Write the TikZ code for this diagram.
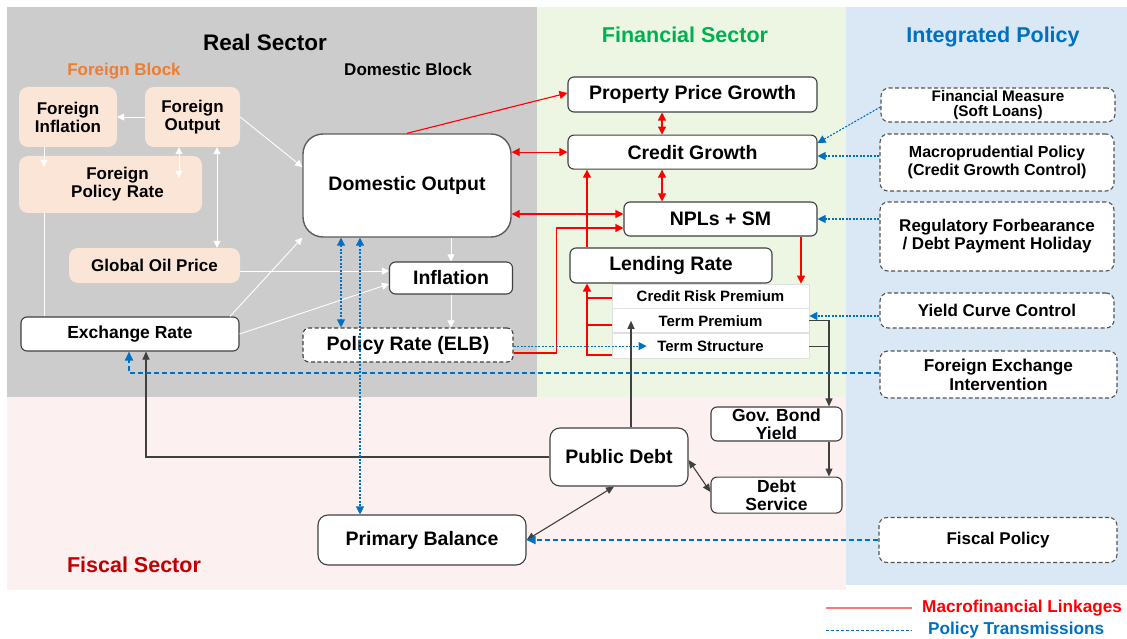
\documentclass[tikz,border=0pt]{standalone}
\usepackage{fontspec}
\setmainfont{Liberation Sans}
\usetikzlibrary{arrows.meta,positioning,calc}

\definecolor{realbg}{RGB}{204,204,204}
\definecolor{finbg}{RGB}{237,245,227}
\definecolor{polbg}{RGB}{218,232,245}
\definecolor{fiscbg}{RGB}{253,240,240}
\definecolor{peach}{RGB}{251,229,214}
\definecolor{boxline}{RGB}{64,64,64}
\definecolor{polblue}{RGB}{0,112,192}
\definecolor{orangetxt}{RGB}{237,125,49}
\definecolor{greentxt}{RGB}{0,176,80}
\definecolor{fiscred}{RGB}{192,0,0}
\definecolor{legred}{RGB}{255,120,120}

\newcommand{\txtsize}[2]{\bfseries\fontsize{#1}{#2}\selectfont}

\tikzstyle{box} = [rectangle, draw=boxline, fill=white, line width=1.1pt,
    rounded corners=6pt, align=center, inner sep=0pt, font=\txtsize{19.5}{22}]
\tikzstyle{smallbox} = [box, font=\txtsize{17.5}{18}]
\tikzstyle{foreign} = [rectangle, fill=peach, rounded corners=9pt,
    align=center, inner sep=0pt, font=\txtsize{17}{18}]
\tikzstyle{premium} = [rectangle, draw=black!12, fill=white, line width=0.8pt,
    inner sep=0pt, minimum width=197pt, font=\txtsize{15}{16}]
\tikzstyle{policy} = [rectangle, draw=boxline!90, dash pattern=on 4pt off 2.5pt,
    fill=white, line width=1.1pt, rounded corners=8pt, align=center,
    inner sep=0pt, minimum width=234pt, font=\txtsize{17}{18}]
\tikzstyle{sectortitle} = [inner sep=0pt, font=\txtsize{21.5}{24}]
\tikzstyle{realline} = [draw, white, line width=0.9pt, >={Triangle[length=7pt,width=7pt]}]
\tikzstyle{macroline} = [draw, red, line width=1.1pt, >={Triangle[length=8pt,width=8pt]}]
\tikzstyle{fiscline} = [draw, boxline, line width=1.1pt, >={Triangle[length=8pt,width=7pt]}]
\tikzstyle{policyline} = [draw, polblue, line width=1.1pt, dash pattern=on 2pt off 1.5pt,
    >={Triangle[length=8pt,width=8pt]}]
\tikzstyle{fxline} = [draw, polblue, line width=1.8pt, dash pattern=on 5pt off 3pt,
    >={Triangle[length=9pt,width=8pt]}]

\begin{document}
\begin{tikzpicture}[x=1pt,y=-1pt]
    \useasboundingbox (0,0) rectangle (1127,639);
    % Sector panels
    \fill[realbg] (7,7) rectangle (537,397);
    \fill[finbg] (537,7) rectangle (846,397);
    \fill[polbg] (846,7) rectangle (1127,585);
    \fill[fiscbg] (7,397) rectangle (846,590);

    % Sector titles
    \node[sectortitle, font=\txtsize{22.5}{24}] (realtitle) at (265,42) {Real Sector};
    \node[sectortitle, font=\txtsize{17}{18}, text=orangetxt] (foreigntitle) at (124,71) {Foreign Block};
    \node[sectortitle, font=\txtsize{17}{18}] (domtitle) at (408,69) {Domestic Block};
    \node[sectortitle, text=greentxt] (fintitle) at (685,35) {Financial Sector};
    \node[sectortitle, text=polblue] (poltitle) at (993,37) {Integrated Policy};
    \node[sectortitle, text=fiscred] (fisctitle) at (134,565) {Fiscal Sector};

    % Place nodes
    % real sector
    \node[foreign, minimum width=98pt, minimum height=60pt] (finfl) at (68,117) {Foreign\\Inflation};
    \node[foreign, minimum width=95pt, minimum height=60pt] (fout) at (192.5,117) {Foreign\\Output};
    \node[foreign, minimum width=183pt, minimum height=57pt, text width=183pt, xshift=0pt] (fprate) at (110.5,184.5) {\hspace*{14pt}Foreign\\\hspace*{14pt}Policy Rate};
    \node[foreign, minimum width=171pt, minimum height=35pt] (oil) at (154.5,265.5) {Global Oil Price};
    \node[smallbox, minimum width=218pt, minimum height=34pt] (exch) at (130,334) {Exchange Rate};
    \node[box, rounded corners=20pt, draw=boxline!85, line width=1.4pt, minimum width=208pt, minimum height=103pt] (dout) at (407,185.5) {Domestic Output};
    \node[box, minimum width=123pt, minimum height=32pt] (infl) at (451,278) {Inflation};
    \node[box, dash pattern=on 4pt off 2.5pt, minimum width=210pt, minimum height=34pt] (prate) at (408,345) {Policy Rate (ELB)};
    % financial sector
    \node[box, minimum width=249pt, minimum height=35pt] (ppg) at (692.5,94.5) {Property Price Growth};
    \node[box, minimum width=249pt, minimum height=34pt, below=22pt of ppg] (cg) {Credit Growth};
    \node[box, minimum width=193pt, minimum height=34pt] (npl) at (720.5,219) {NPLs + SM};
    \node[box, minimum width=202pt, minimum height=35pt] (lend) at (671,265.5) {Lending Rate};
    \node[premium, minimum height=24pt] (crp) at (710.5,296) {Credit Risk Premium};
    \node[premium, minimum height=24pt, below=0pt of crp] (tp) {Term Premium};
    \node[premium, minimum height=25pt, below=0pt of tp] (ts) {Term Structure};
    % fiscal sector
    \node[smallbox, minimum width=131pt, minimum height=34pt] (gby) at (776.5,424) {Gov. Bond\\Yield};
    \node[smallbox, minimum width=131pt, minimum height=36pt, below=35pt of gby] (dserv) {Debt\\Service};
    \node[box, rounded corners=10pt, minimum width=138pt, minimum height=58pt] (pdebt) at (619,457) {Public Debt};
    \node[box, rounded corners=10pt, minimum width=208pt, minimum height=50pt] (pbal) at (422,540) {Primary Balance};
    % integrated policy
    \node[policy, minimum height=34pt, font=\txtsize{15.3}{15.5}] (fmeas) at (998,105) {Financial Measure\\(Soft Loans)};
    \node[policy, minimum height=57pt, font=\txtsize{16}{18.5}] (macpru) at (997,162.5) {Macroprudential Policy\\(Credit Growth Control)};
    \node[policy, minimum height=69pt] (forbear) at (997,236.5) {Regulatory Forbearance\\/ Debt Payment Holiday};
    \node[policy, minimum height=35pt] (ycc) at (997,310.5) {Yield Curve Control};
    \node[policy, minimum width=237pt, minimum height=47pt, font=\txtsize{17.2}{19}] (fxint) at (998.5,374.5) {Foreign Exchange\\Intervention};
    \node[policy, minimum width=238pt, minimum height=45pt] (fiscpol) at (998,540) {Fiscal Policy};

    % Draw edges
    % foreign and domestic block
    \path [realline,->] (fout.west) -- (finfl.east);
    \path [realline,->] (finfl.south -| 44,0) -- ($(fprate.north -| 44,0)+(0,11)$);
    \path [realline,<->] (fout.south -| 179,0) -- ($(fprate.north -| 179,0)+(0,22)$);
    \path [realline,<->] (fout.south -| 217,0) -- (oil.north -| 217,0);
    \path [realline,->] (fout.east) -- (dout.west |- 0,167);
    \path [realline] (fprate.south -| 44,0) -- (exch.north -| 44,0);
    \path [realline,->] (exch.north -| 230,0) -- (dout.south west);
    \path [realline,->] (exch.east) -- (infl.west |- 0,284);
    \path [realline,->] (oil.east |- 0,271) -- (infl.west |- 0,271);
    \path [realline,->] (dout.south -| infl.north) -- (infl.north);
    \path [realline,->] (infl.south) -- (infl.south |- prate.north);
    % macrofinancial linkages
    \path [macroline,->] (dout.north) -- (ppg.west |- 0,93);
    \path [macroline,<->] (dout.east |- cg.west) -- (cg.west);
    \path [macroline,<->] (dout.east |- 0,214) -- (npl.west |- 0,214);
    \path [macroline,<->] (ppg.south -| 662,0) -- (cg.north -| 662,0);
    \path [macroline,<->] (cg.south -| 662,0) -- (npl.north -| 662,0);
    \path [macroline,->] (lend.north -| 587,0) -- (cg.south -| 587,0);
    \path [macroline,->] (npl.south -| 801,0) -- (crp.north -| 801,0);
    \path [macroline,->] (prate.east |- 0,353) -- ++(43,0) |- (npl.west |- 0,228);
    \path [macroline,line width=1.5pt] (crp.west |- 0,298) -- ++(-25,0);
    \path [macroline,line width=1.5pt] (tp.west |- 0,325) -- ++(-25,0);
    \path [macroline,->,line width=1.5pt] (ts.west |- 0,355) -| (lend.south -| 587,0);
    % fiscal linkages
    \path [fiscline,->] (tp.east) -| (gby.north -| 829,0);
    \path [fiscline] (ts.east) -- (ts.east -| 829,0);
    \path [fiscline,->] (gby.south -| 829,0) -- (dserv.north -| 829,0);
    \path [fiscline,->] (pdebt.north -| 631,0) -- (tp.center -| 631,0);
    \path [fiscline,<->] (pdebt.east |- 0,460) -- (dserv.west |- 0,492);
    \path [fiscline,<->] (pbal.east) -- (pdebt.south -| 614,0);
    \path [fiscline,->] (pdebt.west) -| (exch.south -| 146,0);
    % policy transmissions
    \path [policyline,->] (fmeas.west |- 0,107) -- (cg.east |- 0,143);
    \path [policyline,->] (macpru.west |- 0,156) -- (cg.east |- 0,156);
    \path [policyline,->] (forbear.west |- npl.east) -- (npl.east);
    \path [policyline,->] (ycc.west |- 0,316) -- (tp.east |- 0,316);
    \path [policyline,<->] (dout.south -| 341,0) -- (prate.north -| 341,0);
    \path [policyline,<->] (dout.south -| 360,0) -- (pbal.north -| 360,0);
    \path [policyline,->] (prate.east |- ts.west) -- ($(ts.west)+(35,0)$);
    \path [fxline,->] (fxint.west |- 0,373) -| (exch.south -| 129,0);
    \path [fxline,->] (fiscpol.west) -- (pbal.east |- fiscpol.west);

    % Legend
    \coordinate (legA) at (826,608);
    \coordinate (legB) at (912,608);
    \coordinate (legC) at (826,630);
    \coordinate (legD) at (912,630);
    \node[anchor=west, inner sep=0pt, font=\txtsize{17.2}{18}, text=red] (legmacro) at (922,608) {Macrofinancial Linkages};
    \node[anchor=west, inner sep=0pt, font=\txtsize{17.2}{18}, text=polblue] (legpol) at (928,630) {Policy Transmissions};
    \draw[legred, line width=1.2pt] (legA) -- (legB);
    \draw[polblue, line width=1pt, dash pattern=on 3pt off 2pt] (legC) -- (legD);
\end{tikzpicture}
\end{document}
